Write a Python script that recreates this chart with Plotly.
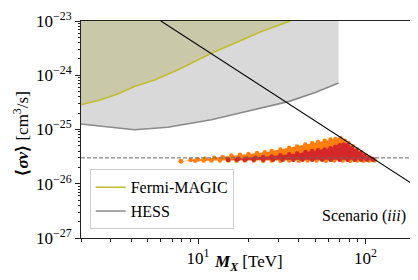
import plotly.graph_objects as go

# ---------------- data ----------------
fermi_x = [2.0, 2.6, 3.31, 4.17, 5.5, 7.6, 12.0, 17.0, 23.9, 35.5]
fermi_y = [2.86e-25, 3.5e-25, 4.5e-25, 6.2e-25, 8.2e-25, 1.26e-24, 2.55e-24, 4.0e-24, 6.4e-24, 1.0e-23]

hess_x = [2.0, 2.88, 4.17, 6.6, 12.0, 17.0, 23.9, 35.0, 50.0, 69.0]
hess_y = [1.26e-25, 1.12e-25, 9.9e-26, 1.1e-25, 1.51e-25, 1.95e-25, 2.48e-25, 3.3e-25, 4.8e-25, 7.2e-25]

unit_x = [6.0, 200.0]
unit_y = [1.0e-23, 9.0e-27]

relic_x = [2.0, 200.0]
relic_y = [3.0e-26, 3.0e-26]

# orange scan region: upper edge (left->right) then lower edge (right->left)
orange_top_x = [7.9, 9.0, 10.0, 11.0, 12.5, 14.0, 15.8, 17.8, 20.0, 22.5, 25.0, 27.5, 31.0, 35.0,
                39.0, 43.7, 48.0, 52.0, 57.0, 61.7, 66.0, 70.8, 75.0, 79.0, 84.0, 89.0, 94.0,
                100.0, 106.0, 113.0]
orange_top_y = [2.6e-26, 2.75e-26, 2.8e-26, 2.89e-26, 3.0e-26, 3.1e-26, 3.3e-26, 3.43e-26, 3.55e-26,
                3.7e-26, 3.8e-26, 4.03e-26, 4.3e-26, 4.6e-26, 4.85e-26, 5.3e-26, 5.6e-26, 5.9e-26,
                6.2e-26, 6.55e-26, 6.7e-26, 6.9e-26, 6.2e-26, 5.6e-26, 4.9e-26, 4.3e-26, 3.8e-26,
                3.35e-26, 3.0e-26, 2.72e-26]
orange_bot_x = [113.0, 105.0, 97.0, 89.0, 81.0, 73.0, 65.0, 58.0, 51.0, 45.0, 40.0, 35.0, 31.0,
                27.5, 24.5, 21.5, 19.0, 17.0, 15.2, 13.5, 12.0, 10.8, 9.6, 7.9]
orange_bot_y = [2.7e-26, 2.68e-26, 2.66e-26, 2.68e-26, 2.66e-26, 2.67e-26, 2.68e-26, 2.66e-26,
                2.67e-26, 2.68e-26, 2.66e-26, 2.67e-26, 2.66e-26, 2.68e-26, 2.66e-26, 2.67e-26,
                2.68e-26, 2.66e-26, 2.67e-26, 2.68e-26, 2.67e-26, 2.68e-26, 2.66e-26, 2.6e-26]

# red scan region
red_top_x = [15.1, 17.4, 19.5, 22.0, 24.5, 27.5, 31.0, 35.0, 39.0, 43.7, 48.0, 52.0, 57.0, 61.7,
             66.0, 70.0, 74.0, 78.0, 83.0, 88.0, 93.0, 98.0, 104.0, 110.6]
red_top_y = [2.78e-26, 2.88e-26, 2.92e-26, 3.0e-26, 3.1e-26, 3.19e-26, 3.35e-26, 3.5e-26, 3.6e-26,
             3.83e-26, 4.0e-26, 4.15e-26, 4.3e-26, 4.53e-26, 4.8e-26, 5.1e-26, 5.3e-26, 5.1e-26,
             4.55e-26, 4.05e-26, 3.65e-26, 3.3e-26, 3.02e-26, 2.85e-26]
red_bot_x = [110.6, 102.0, 94.0, 86.0, 78.0, 70.0, 62.0, 55.0, 48.0, 42.0, 37.0, 32.0, 28.0,
             24.5, 21.5, 19.0, 17.0, 15.1]
red_bot_y = [2.78e-26, 2.77e-26, 2.76e-26, 2.77e-26, 2.76e-26, 2.77e-26, 2.78e-26, 2.76e-26,
             2.77e-26, 2.76e-26, 2.77e-26, 2.78e-26, 2.76e-26, 2.77e-26, 2.76e-26, 2.77e-26,
             2.78e-26, 2.77e-26]

y_ticks = [1e-27, 1e-26, 1e-25, 1e-24, 1e-23]
y_ticktext = ["10<sup>−27</sup>", "10<sup>−26</sup>", "10<sup>−25</sup>", "10<sup>−24</sup>", "10<sup>−23</sup>"]
x_ticks = [10, 100]
x_ticktext = ["10<sup>1</sup>", "10<sup>2</sup>"]

FILL_TOP = 1e-22  # beyond plot range, clipped

FONT = "Liberation Serif, Times New Roman, serif"
fig = go.Figure()

# HESS excluded region
fig.add_trace(go.Scatter(
    x=hess_x + hess_x[::-1], y=hess_y + [FILL_TOP] * len(hess_x),
    fill="toself", fillcolor="rgb(217,217,217)", line=dict(width=0),
    mode="lines", showlegend=False, hoverinfo="skip"))
# Fermi-MAGIC excluded region
fig.add_trace(go.Scatter(
    x=fermi_x + fermi_x[::-1], y=fermi_y + [FILL_TOP] * len(fermi_x),
    fill="toself", fillcolor="rgb(201,201,170)", line=dict(width=0),
    mode="lines", showlegend=False, hoverinfo="skip"))

fig.add_trace(go.Scatter(x=fermi_x, y=fermi_y, mode="lines", name="Fermi-MAGIC",
                         line=dict(color="#c0bf2a", width=1.6)))
fig.add_trace(go.Scatter(x=hess_x, y=hess_y, mode="lines", name="HESS",
                         line=dict(color="#8a8a8a", width=1.6)))

# scan points
fig.add_trace(go.Scatter(
    x=orange_top_x + orange_bot_x, y=orange_top_y + orange_bot_y,
    fill="toself", fillcolor="#ff7f0e", mode="lines+markers",
    line=dict(width=0, color="#ff7f0e"), marker=dict(size=4.5, color="#ff7f0e"),
    showlegend=False))
fig.add_trace(go.Scatter(
    x=red_top_x + red_bot_x, y=red_top_y + red_bot_y,
    fill="toself", fillcolor="#d62728", mode="lines+markers",
    line=dict(width=0, color="#d62728"), marker=dict(size=4.5, color="#d62728"),
    showlegend=False))

fig.add_trace(go.Scatter(x=relic_x, y=relic_y, mode="lines", showlegend=False,
                         line=dict(color="#666666", width=1, dash="4px,2px")))
fig.add_trace(go.Scatter(x=unit_x, y=unit_y, mode="lines", showlegend=False,
                         line=dict(color="black", width=1.1)))

minor_x = [m * 10 ** k for k in (0, 1, 2) for m in range(2, 10)]
minor_y = [m * 10.0 ** k for k in (-27, -26, -25, -24) for m in range(2, 10)]

fig.update_layout(
    width=418, height=280,
    margin=dict(l=73, r=10, t=13, b=50, autoexpand=False),
    paper_bgcolor="white", plot_bgcolor="white",
    font=dict(family=FONT, size=16, color="black"),
    legend=dict(x=0.026, y=0.04, xanchor="left", yanchor="bottom",
                bgcolor="rgba(255,255,255,0.85)", bordercolor="#cccccc", borderwidth=1,
                font=dict(family=FONT, size=16), tracegroupgap=0),
    xaxis=dict(type="log", range=[0.30103, 2.30103], showgrid=False, zeroline=False,
               automargin=False,
               showline=True, mirror=True, linecolor="#222", linewidth=1,
               ticks="outside", ticklen=5, tickcolor="#222",
               tickvals=x_ticks, ticktext=x_ticktext, tickfont=dict(family=FONT, size=17),
               minor=dict(tickvals=minor_x, ticks="outside", ticklen=2.5, tickcolor="#222")),
    yaxis=dict(type="log", range=[-27, -23], showgrid=False, zeroline=False,
               automargin=False,
               showline=True, mirror=True, linecolor="#222", linewidth=1,
               ticks="outside", ticklen=5, tickcolor="#222",
               tickvals=y_ticks, ticktext=y_ticktext, tickfont=dict(family=FONT, size=17),
               minor=dict(tickvals=minor_y, ticks="outside", ticklen=2.5, tickcolor="#222")),
    annotations=[
        dict(text="Scenario (<i>iii</i>)", xref="paper", yref="paper",
             x=0.975, y=0.10, xanchor="right", yanchor="middle",
             showarrow=False, font=dict(family=FONT, size=16)),
        dict(text="<b><i>M<sub>X</sub></i></b> [TeV]", xref="paper", yref="paper",
             x=0.5, y=-0.115, xanchor="center", yanchor="middle",
             showarrow=False, font=dict(family=FONT, size=17)),
        dict(text="<b>⟨<i>σv</i>⟩</b> [cm<sup>3</sup>/s]", xref="paper", yref="paper",
             x=-0.18, y=0.48, xanchor="center", yanchor="middle", textangle=-90,
             showarrow=False, font=dict(family=FONT, size=17)),
    ],
)

fig.write_html("out.html")
